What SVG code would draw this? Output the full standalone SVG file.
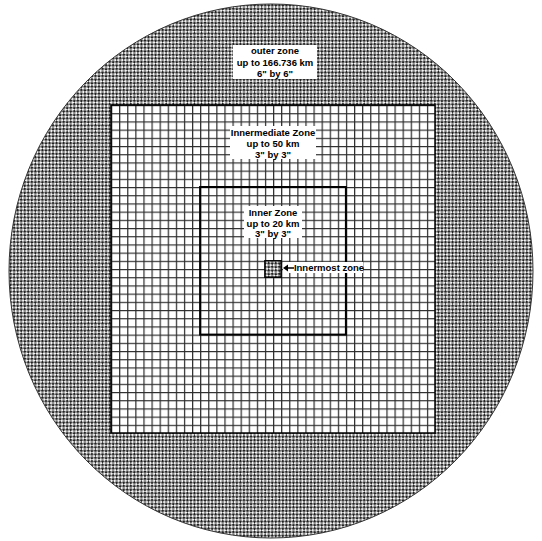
<svg xmlns="http://www.w3.org/2000/svg" width="542" height="541" viewBox="0 0 542 541">
<style>
.lbl{font-family:"Liberation Sans",Arial,sans-serif;font-weight:bold;font-size:9.5px;fill:#000;text-anchor:middle}
.box{fill:#fff;stroke:none}
</style>
<defs>
<pattern id="hatch" width="5" height="5" patternUnits="userSpaceOnUse" patternTransform="rotate(45)">
<rect width="5" height="5" fill="#f4f4f4"/>
<rect width="2.5" height="2.5" fill="#222"/>
<rect x="2.5" y="2.5" width="2.5" height="2.5" fill="#222"/>
</pattern>
<pattern id="grid" x="111" y="105" width="8.1" height="8.2" patternUnits="userSpaceOnUse">
<rect width="8.1" height="8.2" fill="#fff"/>
<path d="M0.6 0V8.2M0 0.6H8.1" stroke="#2a2a2a" stroke-width="1.2" fill="none"/>
</pattern>
</defs>
<rect width="542" height="541" fill="#fff"/>
<g id="outer-zone">
<ellipse cx="271" cy="271" rx="262" ry="267" fill="url(#hatch)" stroke="#333" stroke-width="1"/>
</g>
<g id="intermediate-zone">
<rect x="111" y="105" width="324" height="328" fill="url(#grid)" stroke="#000" stroke-width="1.5"/>
</g>
<g id="inner-zone">
<rect x="200.1" y="187" width="145.8" height="147.6" fill="none" stroke="#000" stroke-width="2"/>
</g>
<g id="innermost-zone">
<rect x="264.9" y="260.8" width="16.2" height="16.4" fill="url(#hatch)" stroke="#000" stroke-width="1.5"/>
</g>
<g id="labels">
<rect class="box" x="233" y="45" width="84" height="34"/>
<text class="lbl" x="275" y="54">outer zone</text>
<text class="lbl" x="275" y="65.5">up to 166.736 km</text>
<text class="lbl" x="275" y="77">6" by 6"</text>
<rect class="box" x="230" y="126" width="86" height="33"/>
<text class="lbl" x="273" y="136">Innermediate Zone</text>
<text class="lbl" x="273" y="147">up to 50 km</text>
<text class="lbl" x="273" y="158">3" by 3"</text>
<rect class="box" x="244" y="206" width="58" height="32"/>
<text class="lbl" x="273" y="216">Inner Zone</text>
<text class="lbl" x="273" y="226.5">up to 20 km</text>
<text class="lbl" x="273" y="237">3" by 3"</text>
<rect class="box" x="283" y="262" width="80" height="11"/>
<text class="lbl" x="329" y="271">Innermost zone</text>
</g>
<g id="connectors">
<path d="M294 268H285" stroke="#000" stroke-width="1.5"/>
<path d="M283 268L288 264.5L288 271.5Z" fill="#000"/>
</g>
</svg>
